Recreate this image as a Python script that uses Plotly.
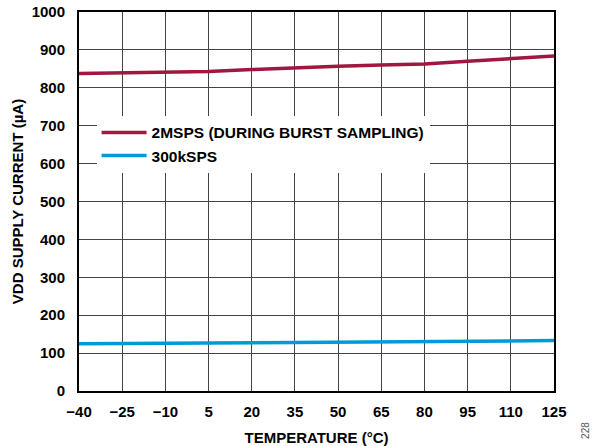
import plotly.graph_objects as go

temps = [-40, -25, -10, 5, 20, 35, 50, 65, 80, 95, 110, 125]
i_2msps = [838, 840, 843, 843, 848, 853, 857, 860, 863, 870, 878, 884]
i_300k = [125, 125, 126, 126, 127, 128, 129, 130, 130, 131, 132, 133]
x_ticks = [-40, -25, -10, 5, 20, 35, 50, 65, 80, 95, 110, 125]
x_labels = ["\u221240", "\u221225", "\u221210", "5", "20", "35", "50", "65", "80", "95", "110", "125"]
y_ticks = list(range(0, 1001, 100))

FONT = "Liberation Sans, Arial, sans-serif"

fig = go.Figure()
fig.add_trace(go.Scatter(x=temps, y=i_2msps, mode="lines", name="2MSPS (DURING BURST SAMPLING)",
                         line=dict(color="#A0173F", width=3.5)))
fig.add_trace(go.Scatter(x=temps, y=i_300k, mode="lines", name="300kSPS",
                         line=dict(color="#009BD6", width=3.5)))

fig.update_layout(
    width=598, height=446,
    margin=dict(l=79, r=44, t=12, b=55, autoexpand=False),
    paper_bgcolor="white", plot_bgcolor="white",
    font=dict(family=FONT, color="black", size=15),
    legend=dict(x=0.037, y=0.726, xanchor="left", yanchor="top", bgcolor="white",
                font=dict(size=15.5, family=FONT, weight="bold"),
                borderwidth=0, itemwidth=45, tracegroupgap=0),
    xaxis=dict(range=[-40, 125], tickmode="array", tickvals=x_ticks, ticktext=x_labels,
               showgrid=True, gridcolor="#444", gridwidth=1, showline=True, linecolor="black",
               linewidth=2, mirror=True, ticks="", zeroline=False, automargin=False,
               ticklabelstandoff=6,
               tickfont=dict(size=15, weight="bold"),
               title=dict(text="TEMPERATURE (\u00b0C)", font=dict(size=15, weight="bold"), standoff=14)),
    yaxis=dict(range=[0, 1000], tickmode="array", tickvals=y_ticks,
               showgrid=True, gridcolor="#444", gridwidth=1, showline=True, linecolor="black",
               linewidth=2, mirror=True, ticks="", zeroline=False, automargin=False,
               ticklabelstandoff=9,
               tickfont=dict(size=15, weight="bold"),
               title=dict(text="VDD SUPPLY CURRENT (\u00b5A)", font=dict(size=15, weight="bold"), standoff=4)),
)
fig.add_annotation(text="228", x=1.065, y=-0.103, xref="paper", yref="paper", xanchor="center", yanchor="middle",
                   showarrow=False, textangle=-90, font=dict(size=10, color="#555"))
fig.write_html("out.html", post_script="document.body.style.margin='0';",
               config={"displayModeBar": False})
